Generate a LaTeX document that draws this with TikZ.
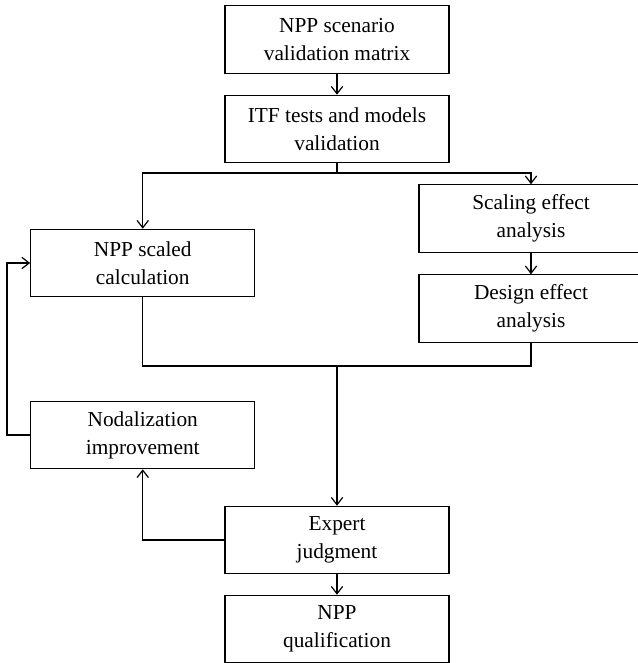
\documentclass[tikz,border=0pt]{standalone}
\usepackage{fontspec}
\setmainfont{Liberation Serif}
\usetikzlibrary{arrows.meta,positioning}

\begin{document}
\begin{tikzpicture}[x=0.75pt,y=-0.75pt,
  block/.style={draw,line width=0.9pt,minimum width=168pt,minimum height=50.5pt,inner sep=2pt,align=center,font=\fontsize{16}{21}\selectfont},
  link/.style={line width=0.9pt},
  flow/.style={line width=0.9pt,-{Straight Barb[length=5.5pt,width=8.5pt]}}]
\useasboundingbox (0,0) rectangle (638,663);

\node(matrix)[block] at (337,39.5) {NPP scenario\\validation matrix};
\node(itf)[block] at (337,129) {ITF tests and models\\validation};
\node(calc)[block] at (142.75,263) {NPP scaled\\calculation};
\node(scaling)[block] at (531,218.5) {Scaling effect\\analysis};
\node(design)[block] at (531,308.5) {Design effect\\analysis};
\node(nodal)[block] at (142.75,435) {Nodalization\\improvement};
\node(expert)[block] at (337,540) {Expert\\judgment};
\node(qual)[block] at (337,629) {NPP\\qualification};

\coordinate(split) at (337,173);
\coordinate(merge) at (337,366);
\coordinate(back) at (7,435);

\draw [flow] (matrix) to (itf);
\draw [link] (itf) to (split);
\draw [flow] (split) -| (calc);
\draw [flow] (split) -| (scaling);
\draw [flow] (scaling) to (design);
\draw [link] (calc) |- (merge);
\draw [link] (design) |- (merge);
\draw [flow] (merge) to (expert);
\draw [flow] (expert) -| (nodal);
\draw [flow] (nodal.west) -- (back) |- (calc.west);
\draw [flow] (expert) to (qual);
\end{tikzpicture}
\end{document}
